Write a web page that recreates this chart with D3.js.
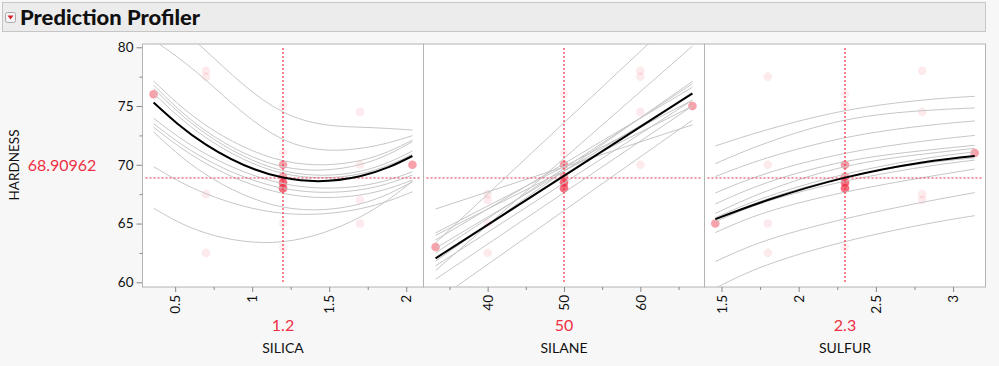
<!DOCTYPE html>
<html>
<head>
<meta charset="utf-8">
<script src="https://cdn.jsdelivr.net/npm/d3@7"></script>
<style>
  body { margin: 0; background: #f7f7f7; }
  svg { display: block; font-family: Lato, "Open Sans", sans-serif; }
</style>
</head>
<body>
<div id="chart"></div>
<script>
// response
var responseName = "HARDNESS";
var predicted = 68.90962;
var yTicks = [60, 65, 70, 75, 80];
var yMinor = [62.5, 67.5, 72.5, 77.5];

// factors
var factorNames = ["SILICA", "SILANE", "SULFUR"];
var current = [1.2, 50, 2.3];
var currentLabels = ["1.2", "50", "2.3"];
var silicaTicks = [0.5, 1, 1.5, 2];
var silicaMinor = [0.75, 1.25, 1.75];
var silaneTicks = [40, 50, 60];
var silaneMinor = [35, 45, 55, 65];
var sulfurTicks = [1.5, 2, 2.5, 3];
var sulfurMinor = [1.75, 2.25, 2.75];

// design runs
var runSilica = [0.7, 0.7, 0.7, 0.7, 1.7, 1.7, 1.7, 1.7, 0.36, 2.04, 1.2, 1.2, 1.2, 1.2, 1.2, 1.2, 1.2, 1.2, 1.2, 1.2];
var runSilane = [60, 60, 40, 40, 60, 60, 40, 40, 50, 50, 33.18, 66.82, 50, 50, 50, 50, 50, 50, 50, 50];
var runSulfur = [2.8, 1.8, 2.8, 1.8, 2.8, 1.8, 2.8, 1.8, 2.3, 2.3, 2.3, 2.3, 1.46, 3.14, 2.3, 2.3, 2.3, 2.3, 2.3, 2.3];
var runHardness = [78, 77.5, 67.5, 62.5, 74.5, 70, 67, 65, 76, 70, 63, 75, 65, 71, 70, 69, 68.5, 68.5, 68, 68];

// profile traces (x positions, then one row of y values per trace)
var silicaX = [0.36, 0.7, 1.2, 1.7, 2.04];
var silicaProfile = [75.3, 71.72, 68.91, 69.02, 70.75];
var silicaTraces = [
  [83.5, 79.7, 74.5, 73.2, 72.96],
  [80.6, 77.2, 72.17, 71.4, 72.48],
  [77.13, 73.36, 70.35, 70.36, 72.1],
  [76.79, 72.88, 69.84, 70.02, 71.97],
  [76.5, 72.63, 69.5, 69.45, 71.17],
  [76.08, 72.31, 69.27, 69.23, 70.9],
  [73.96, 70.92, 68.4, 68.2, 69.4],
  [73.5, 70.47, 68.0, 67.87, 69.13],
  [73.2, 70.11, 67.57, 67.43, 68.7],
  [72.8, 69.17, 66.4, 66.67, 68.56],
  [69.84, 67.54, 65.87, 66.26, 67.7],
  [66.3, 64.19, 63.46, 65.55, 68.6]
];
var silaneX = [33.18, 66.82];
var silaneProfile = [62.04, 76.08];
var silaneTraces = [
  [63.36, 83.8],
  [61.0, 80.1],
  [66.24, 73.4],
  [58.4, 73.8],
  [64.2, 75.5],
  [64.0, 75.0],
  [63.6, 76.6],
  [62.5, 76.9],
  [61.8, 77.1],
  [61.4, 75.5],
  [60.26, 75.0],
  [62.9, 76.0]
];
var sulfurX = [1.46, 1.8, 2.3, 2.8, 3.14];
var sulfurProfile = [65.38, 67.0, 68.91, 70.2, 70.75];
var sulfurTraces = [
  [71.6, 73.0, 74.6, 75.5, 75.83],
  [70.1, 71.9, 73.8, 74.6, 74.84],
  [69.0, 70.6, 72.3, 73.3, 73.73],
  [67.6, 69.3, 70.97, 72.0, 72.5],
  [66.66, 68.5, 70.27, 71.2, 71.66],
  [65.86, 67.8, 69.84, 70.9, 71.4],
  [65.5, 67.3, 69.2, 70.5, 71.1],
  [65.3, 67.1, 68.95, 70.1, 70.6],
  [65.16, 66.9, 68.6, 69.8, 70.4],
  [64.23, 66.0, 67.67, 68.9, 69.64],
  [61.76, 63.6, 65.4, 66.8, 67.63],
  [59.5, 61.5, 63.46, 64.9, 65.67]
];

var w = 999, h = 366;
var red = "#ee2f45";
var plotTop = 44, plotBottom = 287;
var panelX = [142.5, 423.5, 704.5, 985.5];

var panels = [
  { domain: [0.288, 2.112], ticks: silicaTicks, minor: silicaMinor, xs: silicaX, traces: silicaTraces, profile: silicaProfile, runs: runSilica },
  { domain: [31.6, 68.4], ticks: silaneTicks, minor: silaneMinor, xs: silaneX, traces: silaneTraces, profile: silaneProfile, runs: runSilane },
  { domain: [1.39, 3.21], ticks: sulfurTicks, minor: sulfurMinor, xs: sulfurX, traces: sulfurTraces, profile: sulfurProfile, runs: runSulfur }
];
var runCols = [runSilica, runSilane, runSulfur];
var steps = [0.5, 10, 0.5];

var svg = d3.select("#chart").append("svg")
  .attr("width", w)
  .attr("height", h);

// header bar
svg.append("rect")
  .attr("x", 2.5).attr("y", 2.5).attr("width", 983).attr("height", 29)
  .attr("fill", "#ececec").attr("stroke", "#c6c6c6");
svg.append("rect")
  .attr("x", 5.5).attr("y", 12.5).attr("width", 10).attr("height", 10).attr("rx", 2)
  .attr("fill", "#f4f4f4").attr("stroke", "#a8a8a8");
svg.append("path")
  .attr("d", "M7.5,15.5 L13.5,15.5 L10.5,19.5 Z")
  .attr("fill", "#d8202a");
svg.append("text")
  .attr("x", 20).attr("y", 25)
  .attr("font-size", 21).attr("font-weight", 900).attr("fill", "#111")
  .attr("textLength", 180).attr("lengthAdjust", "spacingAndGlyphs")
  .text("Prediction Profiler");

var y = d3.scaleLinear().domain([59.6, 80.28]).range([plotBottom, plotTop]);

// y axis
var yAxis = svg.append("g")
  .attr("transform", "translate(" + panelX[0] + ",0)")
  .call(d3.axisLeft(y).tickValues(yTicks).tickSize(6).tickFormat(d3.format("d")));
svg.append("g")
  .attr("transform", "translate(" + panelX[0] + ",0)")
  .call(d3.axisLeft(y).tickValues(yMinor).tickSize(3).tickFormat(""))
  .call(g => g.select(".domain").remove());
yAxis.select(".domain").remove();
svg.selectAll(".tick line").attr("stroke", "#888");
yAxis.selectAll("text")
  .attr("font-size", 13.5).attr("fill", "#111").attr("font-family", "Lato, sans-serif");

svg.append("text")
  .attr("transform", "translate(19,165) rotate(-90)")
  .attr("text-anchor", "middle")
  .attr("font-size", 13.5).attr("fill", "#111")
  .text(responseName);
svg.append("text")
  .attr("x", 62).attr("y", 171)
  .attr("text-anchor", "middle")
  .attr("font-size", 16).attr("fill", red)
  .text(predicted.toFixed(5));

panels.forEach(function(p, i) {
  var x0 = panelX[i], x1 = panelX[i + 1];
  var x = d3.scaleLinear().domain(p.domain).range([x0, x1]);

  svg.append("clipPath").attr("id", "clip" + i)
    .append("rect").attr("x", x0).attr("y", plotTop).attr("width", x1 - x0).attr("height", plotBottom - plotTop);

  svg.append("rect")
    .attr("x", x0).attr("y", plotTop).attr("width", x1 - x0).attr("height", plotBottom - plotTop)
    .attr("fill", "#fff").attr("stroke", "#b4b4b4");

  var g = svg.append("g").attr("clip-path", "url(#clip" + i + ")");

  // other factors' distance from current settings (coded units)
  var others = [0, 1, 2].filter(k => k !== i);
  var pts = runHardness.map(function(v, r) {
    var d2 = 0;
    others.forEach(function(k) {
      var c = (runCols[k][r] - current[k]) / steps[k];
      d2 += c * c;
    });
    return { x: p.runs[r], y: v, d2: d2 };
  });
  pts.sort((a, b) => b.d2 - a.d2);

  g.selectAll("circle.run")
    .data(pts)
    .enter()
    .append("circle")
    .attr("class", "run")
    .attr("cx", d => x(d.x))
    .attr("cy", d => y(d.y))
    .attr("r", 4.3)
    .attr("fill", red)
    .attr("fill-opacity", d => d.d2 === 0 ? 0.45 : 0.2 / d.d2);

  var line = d3.line()
    .x((d, j) => x(p.xs[j]))
    .y(d => y(d))
    .curve(p.xs.length > 2 ? d3.curveNatural : d3.curveLinear);

  g.selectAll("path.trace")
    .data(p.traces)
    .enter()
    .append("path")
    .attr("class", "trace")
    .attr("d", line)
    .attr("fill", "none")
    .attr("stroke", "#c6c6c6")
    .attr("stroke-width", 1);

  // crosshairs
  var hy = Math.round(y(predicted));
  var vx = x(current[i]);
  g.append("line")
    .attr("x1", x0 + 3).attr("x2", x1 - 3)
    .attr("y1", hy).attr("y2", hy)
    .attr("stroke", red).attr("stroke-width", 1.2).attr("stroke-dasharray", "2,2");
  g.append("line")
    .attr("x1", vx).attr("x2", vx)
    .attr("y1", plotTop + 4).attr("y2", plotBottom - 4)
    .attr("stroke", red).attr("stroke-width", 1.2).attr("stroke-dasharray", "2,2");

  g.append("path")
    .datum(p.profile)
    .attr("d", line)
    .attr("fill", "none")
    .attr("stroke", "#000")
    .attr("stroke-width", 2);

  // x axis
  var xa = svg.append("g")
    .attr("transform", "translate(0," + plotBottom + ")")
    .call(d3.axisBottom(x).tickValues(p.ticks).tickSize(5).tickFormat(d => String(d)));
  xa.select(".domain").remove();
  xa.selectAll(".tick line").attr("stroke", "#888");
  xa.selectAll("text")
    .attr("transform", "rotate(-90)")
    .attr("x", -8).attr("y", 0).attr("dy", "0.35em")
    .attr("text-anchor", "end")
    .attr("font-size", 13.5).attr("fill", "#111").attr("font-family", "Lato, sans-serif");
  svg.append("g")
    .attr("transform", "translate(0," + plotBottom + ")")
    .call(d3.axisBottom(x).tickValues(p.minor).tickSize(3).tickFormat(""))
    .call(g2 => g2.select(".domain").remove())
    .selectAll(".tick line").attr("stroke", "#888");

  var cx = (x0 + x1) / 2;
  svg.append("text")
    .attr("x", cx).attr("y", 331)
    .attr("text-anchor", "middle")
    .attr("font-size", 16).attr("fill", red)
    .text(currentLabels[i]);
  svg.append("text")
    .attr("x", cx).attr("y", 353)
    .attr("text-anchor", "middle")
    .attr("font-size", 14).attr("fill", "#111")
    .text(factorNames[i]);
});
</script>
</body>
</html>
